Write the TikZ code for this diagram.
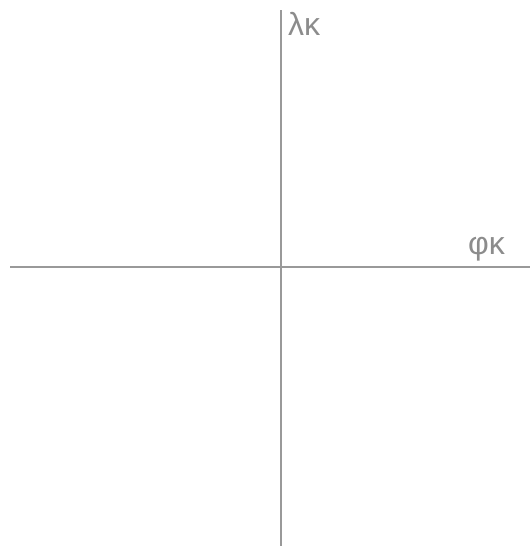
\documentclass[tikz,border=0pt]{standalone}
\usepackage{fontspec}
\setmainfont{Liberation Sans}
\begin{document}
\begin{tikzpicture}[x=1pt,y=-1pt,
  axis/.style={draw=gray!80, line width=2.5pt},
  lab/.style={text=gray!90, font=\fontsize{32}{34}\selectfont, inner sep=0pt, anchor=base west}]
\useasboundingbox (0,0) rectangle (530,546);
\coordinate (xl) at (10,267);
\coordinate (xr) at (530,267);
\coordinate (yt) at (281,10);
\coordinate (yb) at (281,546);
\draw[axis] (xl) -- (xr);
\draw[axis] (yt) -- (yb);
\node[lab] (ly) at (288,35) {λκ};
\node[lab] (lx) at (468,254) {φκ};
\end{tikzpicture}
\end{document}
